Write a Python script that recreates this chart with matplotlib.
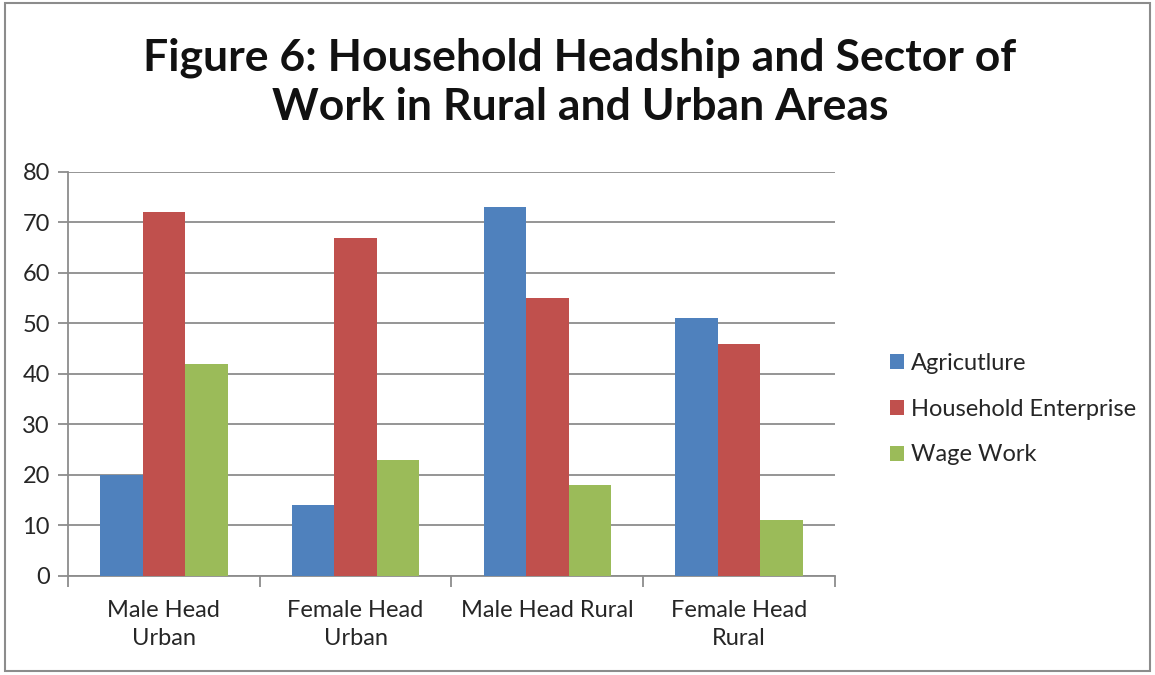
import matplotlib
matplotlib.use("Agg")
import matplotlib.pyplot as plt
from matplotlib.patches import Rectangle
import numpy as np

plt.rcParams['font.family'] = ['Lato', 'DejaVu Sans']

categories = ["Male Head\nUrban", "Female Head\nUrban", "Male Head Rural", "Female Head\nRural"]
series_names = ["Agricutlure", "Household Enterprise", "Wage Work"]
agriculture = [20, 14, 73, 51]
household_enterprise = [72, 67, 55, 46]
wage_work = [42, 23, 18, 11]
colors = ["#4F81BD", "#C0504D", "#9BBB59"]

fig = plt.figure(figsize=(11.55, 6.75), dpi=100)
ax = fig.add_axes([0.0589, 0.1467, 0.664, 0.5985])

x = np.arange(len(categories))
w = 0.222
for i, (vals, name) in enumerate(zip([agriculture, household_enterprise, wage_work], series_names)):
    ax.bar(x + (i - 1) * w, vals, width=w, color=colors[i], label=name, zorder=3)

ax.set_xlim(-0.5, len(categories) - 0.5)
ax.set_ylim(0, 80)
ax.set_yticks(range(0, 81, 10))
ax.yaxis.grid(True, color="#8c8c8c", linewidth=1.3, zorder=0)
ax.set_xticks(x)
ax.set_xticklabels(categories, fontsize=17, color="#262626", linespacing=1.45)
ax.set_xticks(np.arange(-0.5, len(categories)), minor=True)
ax.tick_params(axis="x", which="major", length=0, pad=17)
ax.tick_params(axis="x", which="minor", length=8, color="#8c8c8c", width=1.3)
ax.tick_params(axis="y", length=7, color="#8c8c8c", width=1.3, labelsize=17,
               labelcolor="#262626", pad=6)
for side in ["top", "right"]:
    ax.spines[side].set_visible(False)
for side in ["left", "bottom"]:
    ax.spines[side].set_color("#8c8c8c")
    ax.spines[side].set_linewidth(1.3)

fig.text(0.502, 0.878, "Figure 6: Household Headship and Sector of\nWork in Rural and Urban Areas",
         ha="center", va="center", fontsize=32, fontweight="bold", color="#111111",
         linespacing=1.25)

fig.legend(loc="center left", bbox_to_anchor=(0.752, 0.394), frameon=False,
           fontsize=17, handlelength=0.6, handleheight=0.6, handletextpad=0.3,
           labelspacing=1.05, labelcolor="#262626")

fig.patches.append(Rectangle((0.004, 0.006), 0.992, 0.99, transform=fig.transFigure,
                             fill=False, edgecolor="#8c8c8c", linewidth=1.5))

fig.savefig("out.png", dpi=100)
